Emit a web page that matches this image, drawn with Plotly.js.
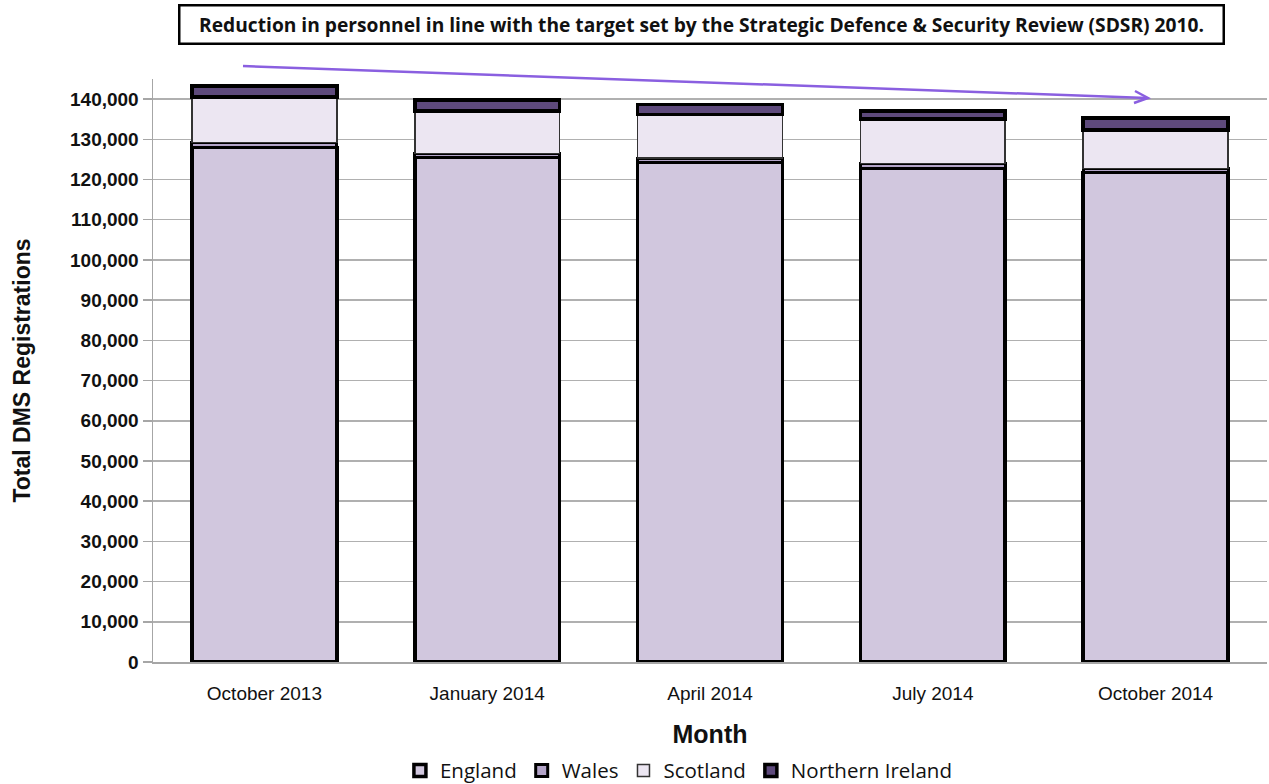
<!DOCTYPE html>
<html>
<head>
<meta charset="utf-8">
<script src="https://cdn.plot.ly/plotly-3.0.1.min.js"></script>
<style>html,body{margin:0;padding:0;background:#fff;}#chart{width:1269px;height:784px;}</style>
</head>
<body>
<div id="chart"></div>
<script>
const months = ["October 2013", "January 2014", "April 2014", "July 2014", "October 2014"];
const england = [128000, 125600, 124200, 122800, 121700];
const wales = [1200, 900, 1100, 1200, 1100];
const scotland = [11300, 10600, 10850, 11000, 9550];
const northernIreland = [2700, 2700, 2550, 2000, 2900];
const yTickVals = [0,10000,20000,30000,40000,50000,60000,70000,80000,90000,100000,110000,120000,130000,140000];

const barW = 0.65;
function mk(name, vals, fill, lw, lc) {
  return {type: 'bar', name: name, x: months, y: vals, width: barW,
    marker: {color: fill, line: {color: lc, width: lw}}, hoverinfo: 'y+name'};
}
const data = [
  mk('England', england, '#d1c7de', 3.5, '#000'),
  mk('Wales', wales, '#b3a4c8', 3, '#000'),
  mk('Scotland', scotland, '#ece6f2', 1.5, '#333'),
  mk('Northern Ireland', northernIreland, '#5e4a7c', 3.5, '#000')
];

const layout = {
  width: 1269, height: 784,
  margin: {l: 153, r: 2, t: 79, b: 122, autoexpand: false},
  barmode: 'stack',
  paper_bgcolor: '#fff', plot_bgcolor: '#fff',
  showlegend: true,
  legend: {orientation: 'h', x: 0.535, xanchor: 'center', xref: 'container', yref: 'container', y: 0.017, yanchor: 'middle',
    font: {family: 'Open Sans', size: 20.5, color: '#111'}, traceorder: 'normal'},
  xaxis: {
    automargin: false,
    showline: true, linecolor: '#a6a6a6', linewidth: 1.5,
    tickfont: {family: 'Liberation Sans', size: 19, color: '#111'},
    ticks: '', showgrid: false, ticklabelstandoff: 14,
    title: {text: 'Month', font: {family: 'Liberation Sans', size: 25, color: '#111', weight: 'bold'}, standoff: 22}
  },
  yaxis: {
    automargin: false,
    range: [0, 145000],
    tickvals: yTickVals, tickformat: ',d',
    showline: true, linecolor: '#a6a6a6', linewidth: 1.5,
    ticks: 'outside', ticklen: 9, tickcolor: '#a6a6a6', tickwidth: 1.5,
    gridcolor: '#b0b0b0', gridwidth: 1.5, zeroline: false,
    tickfont: {family: 'Liberation Sans', size: 19, color: '#111', weight: 'bold'},
    title: {text: 'Total DMS Registrations', font: {family: 'Liberation Sans', size: 23, color: '#111', weight: 'bold'}, standoff: 33}
  },
  annotations: [{
    xref: 'paper', yref: 'paper', x: (701 - 153) / 1114, y: 1 + (79 - 24) / 583,
    xanchor: 'center', yanchor: 'middle', showarrow: false,
    text: 'Reduction in personnel in line with the target set by the Strategic Defence &amp; Security Review (SDSR) 2010.',
    font: {family: 'Open Sans', size: 19.2, color: '#111', weight: 'bold'},
    bgcolor: '#fff', bordercolor: '#000', borderwidth: 2.5, width: 1040, height: 34
  }],
  shapes: [
    {type: 'line', xref: 'paper', yref: 'paper',
      x0: (243 - 153) / 1114, y0: (662 - 66) / 583, x1: (1147 - 153) / 1114, y1: (662 - 98) / 583,
      line: {color: '#8a5fe0', width: 2.5}},
    {type: 'path', xref: 'paper', yref: 'paper',
      path: 'M ' + ((1135 - 153) / 1114) + ',' + ((662 - 91) / 583) + ' L ' + ((1148 - 153) / 1114) + ',' + ((662 - 98) / 583) + ' L ' + ((1134 - 153) / 1114) + ',' + ((662 - 103) / 583),
      line: {color: '#8a5fe0', width: 2.5}}
  ]
};

Plotly.newPlot('chart', data, layout, {displayModeBar: false, staticPlot: true});
</script>
</body>
</html>
